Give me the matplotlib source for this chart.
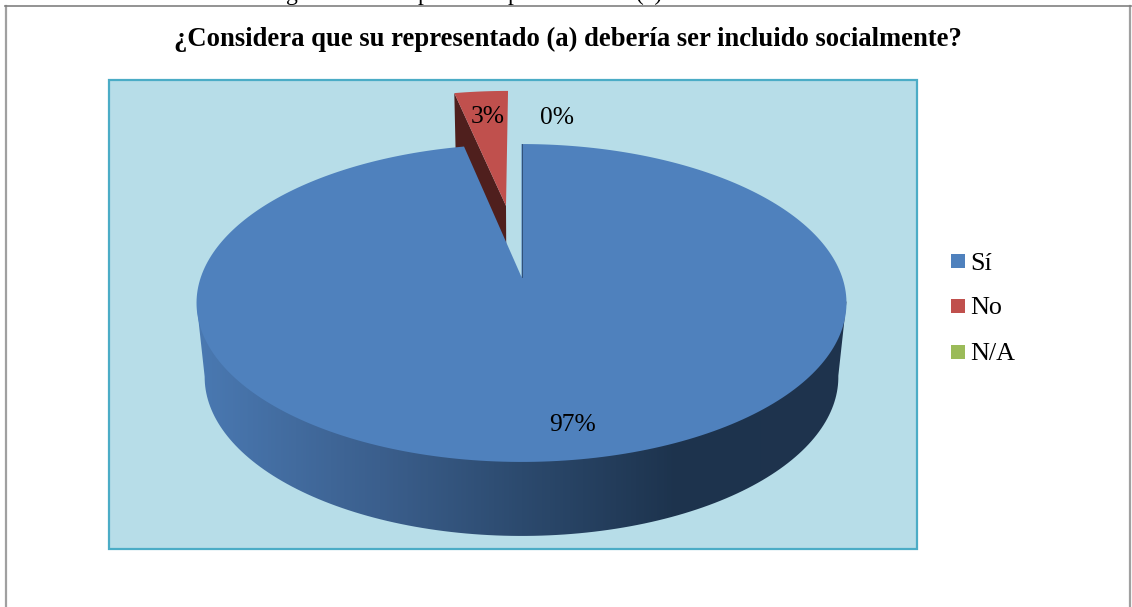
import numpy as np
import matplotlib
matplotlib.use("Agg")
import matplotlib.pyplot as plt
from matplotlib.colors import LinearSegmentedColormap
from matplotlib.patches import Polygon, Rectangle

# Datos del grafico
titulo = "¿Considera que su representado (a) debería ser incluido socialmente?"
categorias = ["Sí", "No", "N/A"]
valores = [29, 1, 0]
colores = ["#4f81bd", "#c0504d", "#9bbb59"]

plt.rcParams["font.family"] = ["Liberation Serif", "DejaVu Serif"]

W, H = 1132, 607
fig = plt.figure(figsize=(W / 100, H / 100), dpi=100, facecolor="white")
ax = fig.add_axes([0, 0, 1, 1])
ax.set_xlim(0, W)
ax.set_ylim(H, 0)
ax.axis("off")

# Perspectiva del pastel 3D
cx, cy = 521.5, 277
a, b, k = 320.6, 154.7, 0.1635
prof = 74
esc_base = 0.975
sep = 0.50


def proyecta(u, v, base=False):
    w = 1 + k * v
    x = a * u / w
    y = b * v / w
    if base:
        return cx + x * esc_base, cy - y + prof
    return cx + x, cy - y


def sector(t0, t1, dx=0.0, dy=0.0, n=300):
    t = np.radians(np.linspace(t0, t1, n))
    return np.sin(t) + dx, np.cos(t) + dy


total = sum(valores)
ang_si = 360 * valores[0] / total
ang_no = 360 * valores[1] / total

# Marco exterior y area de trazado
ax.plot([5.5, 5.5], [6, H], color="#a0a0a0", lw=1.6)
ax.plot([1130, 1130], [6, H], color="#a0a0a0", lw=1.6)
ax.plot([5, 1131], [6, 6], color="#808080", lw=1.2)
ax.add_patch(Rectangle((109, 80), 808, 469, fc="#b7dde8", ec="#4bacc6", lw=1.6))

# Leyenda de arriba cortada por el borde de la pagina
for txt, xt in zip(["g", "p", "p", "(a)"], [292, 423, 513, 649]):
    ax.text(xt, 0, txt, fontsize=17, ha="center", va="baseline", clip_on=True)

# Sector "No", separado del centro
mid = np.radians(-ang_no / 2)
dx, dy = sep * np.sin(mid), sep * np.cos(mid)
ux, vy = sector(-ang_no, 0, dx, dy)
xr, yr = proyecta(ux, vy)
xa, ya = proyecta(np.array([dx]), np.array([dy]))
xb, yb = proyecta(np.array([dx]), np.array([dy]), base=True)
xr_b, yr_b = proyecta(ux, vy, base=True)
ax.add_patch(Polygon([(xa[0], ya[0]), (xr[0], yr[0]), (xr_b[0], yr_b[0]), (xb[0], yb[0])],
                     fc="#4f1f1d", ec="none"))
ax.add_patch(Polygon(np.r_[[[xa[0], ya[0]]], np.c_[xr, yr]], fc=colores[1], ec="none"))

# Sector "Si": lateral con degradado
ut, vt = sector(0, ang_si)
xs, ys = proyecta(ut, vt)
xf, yf = proyecta(ut, vt, base=True)
der = np.argmax(xs)
izq = np.argmin(xs)
lateral = np.r_[[[xs[der], ys[der]]], np.c_[xf[der:izq + 1], yf[der:izq + 1]], [[xs[izq], ys[izq]]]]
clip = Polygon(lateral, fc="none", ec="none")
ax.add_patch(clip)
cmap = LinearSegmentedColormap.from_list(
    "lateral",
    [(0.0, "#4a79b2"), (0.28, "#3b5f8d"), (0.50, "#2c4a6e"), (0.74, "#1d334d"), (1.0, "#1f344e")],
)
grad = ax.imshow(np.linspace(0, 1, 512)[None, :], extent=(197, 847, 560, 280), cmap=cmap,
                 aspect="auto", zorder=1.5)
grad.set_clip_path(clip)
ax.set_xlim(0, W)
ax.set_ylim(H, 0)

# Cara superior del sector "Si"
ax.add_patch(Polygon(np.r_[[[cx, cy]], np.c_[xs, ys]], fc=colores[0], ec="none", zorder=2))
ax.plot([cx, cx], [cy, ys[0]], color="#2c4a6e", lw=0.6, zorder=2.1)

# Etiquetas de porcentaje
pos_etiquetas = [(573, 425), (488, 117), (557, 118)]
for v, (xt, yt) in zip(valores, pos_etiquetas):
    ax.text(xt, yt, f"{v / total:.0%}", fontsize=18.4, ha="center", va="center", zorder=3)

ax.text(568, 39, titulo, fontsize=19.2, fontweight="bold", ha="center", va="center")

# Leyenda
for cat, col, yt in zip(categorias, colores, [261, 306, 352]):
    ax.add_patch(Rectangle((951, yt - 7), 14, 14, fc=col, ec="none"))
    ax.text(970, yt, cat, fontsize=18.8, ha="left", va="center_baseline")

fig.savefig("out.png", dpi=100, facecolor="white")
